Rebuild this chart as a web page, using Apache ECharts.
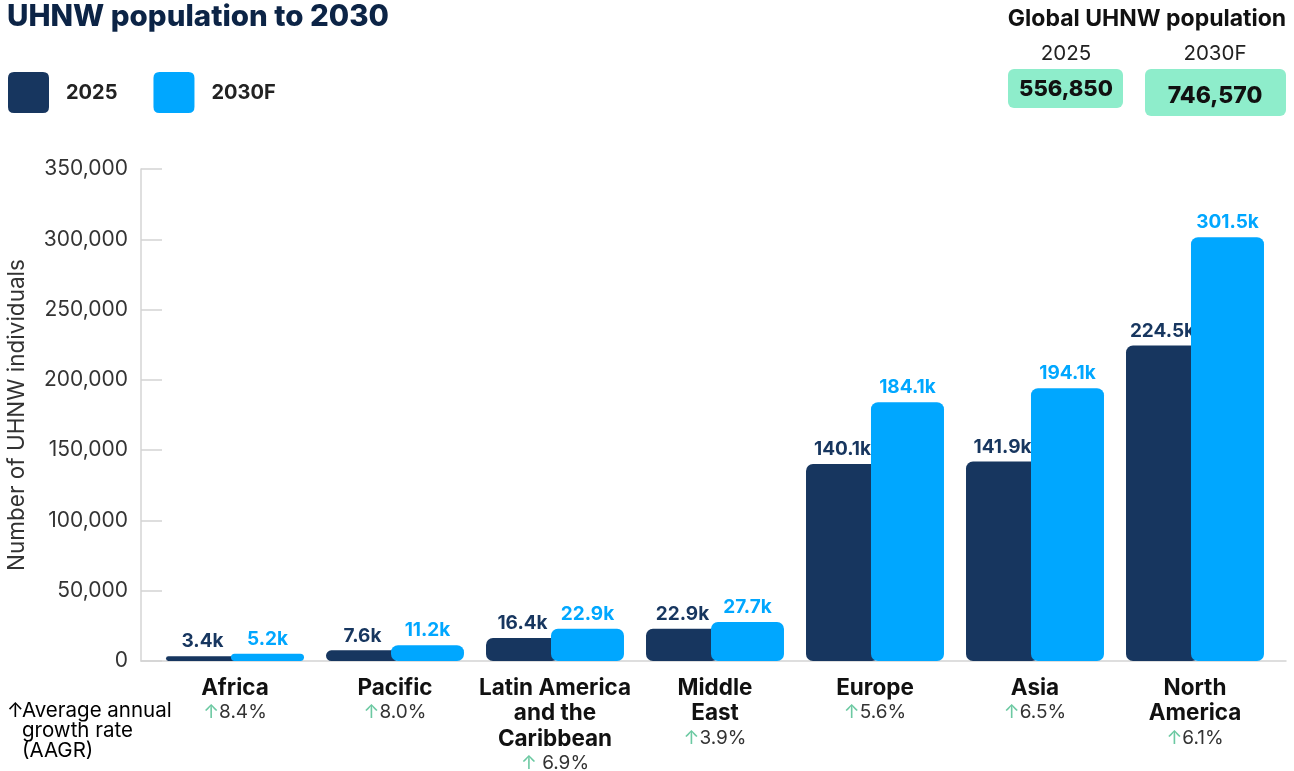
<!DOCTYPE html>
<html>
<head>
<meta charset="utf-8">
<title>UHNW population to 2030</title>
<script src="https://cdn.jsdelivr.net/npm/echarts@6/dist/echarts.min.js"></script>
<style>
  html, body { margin: 0; padding: 0; background: #ffffff; }
  #chart { width: 1294px; height: 771px; }
</style>
</head>
<body>
<div id="chart"></div>
<script>
// Regions, ordered by 2025 population
const regions = ['Africa', 'Pacific', 'Latin America\nand the\nCaribbean', 'Middle\nEast', 'Europe', 'Asia', 'North\nAmerica'];
// Average annual growth rate per region
const growth = ['8.4%', '8.0%', ' 6.9%', '3.9%', '5.6%', '6.5%', '6.1%'];
// UHNW individuals
const pop2025 = [3400, 7600, 16400, 22900, 140100, 141900, 224500];
const pop2030 = [5200, 11200, 22900, 27700, 184100, 194100, 301500];
// Global totals
const global2025 = '556,850';
const global2030 = '746,570';
const yTicks = [0, 50000, 100000, 150000, 200000, 250000, 300000, 350000];

const DARK = '#17365f';
const LIGHT = '#00a7ff';
const MINT = '#8eedcb';
const FONT = 'Inter, "Noto Sans", sans-serif';

const chart = echarts.init(document.getElementById('chart'), null, { renderer: 'canvas' });

const fmtK = v => (v / 1000).toFixed(1) + 'k';
const fmtNum = v => v.toLocaleString('en-US');

const categoryLabel = (name, i) => {
  const lines = name.split('\n').map(l => '{n|' + l + '}').join('\n');
  return lines + '\n{a|↑}{p|' + growth[i] + '}';
};

const option = {
  backgroundColor: '#ffffff',
  animation: false,
  textStyle: { fontFamily: FONT },
  legend: {
    left: 8,
    top: 72,
    padding: 0,
    itemWidth: 41,
    itemHeight: 41,
    itemGap: 36,
    icon: 'path://M6,0 L35,0 Q41,0 41,6 L41,35 Q41,41 35,41 L6,41 Q0,41 0,35 L0,6 Q0,0 6,0 Z',
    textStyle: { fontFamily: FONT, fontSize: 20, fontWeight: 700, color: '#222222', padding: [0, 0, 0, 12] },
    data: ['2025', '2030F']
  },
  grid: [
    { left: 141, right: 8, top: 169, bottom: 110, outerBoundsMode: 'none' },
    { left: 155, right: 19, top: 169, bottom: 110, outerBoundsMode: 'none' }
  ],
  xAxis: [
    {
      gridIndex: 0, type: 'value', min: 0, max: 1,
      axisLine: { show: true, lineStyle: { color: '#d4d4d4', width: 1.5 } },
      axisTick: { show: false }, axisLabel: { show: false }, splitLine: { show: false }
    },
    {
      gridIndex: 1, type: 'category', data: regions,
      axisLine: { show: false }, axisTick: { show: false },
      axisLabel: {
        interval: 0,
        margin: 14,
        formatter: categoryLabel,
        rich: {
          n: { fontFamily: FONT, fontSize: 22.5, fontWeight: 700, color: '#111111', lineHeight: 25.5, align: 'center' },
          a: { fontFamily: FONT, fontSize: 19, color: '#6cc9a2', lineHeight: 24 },
          p: { fontFamily: FONT, fontSize: 19, color: '#333333', lineHeight: 24 }
        }
      }
    }
  ],
  yAxis: [
    {
      gridIndex: 0, type: 'value', min: 0, max: 350000, interval: 50000,
      name: 'Number of UHNW individuals',
      nameLocation: 'middle', nameRotate: 90, nameGap: 112,
      nameTextStyle: { fontFamily: FONT, fontSize: 22.5, color: '#333333' },
      axisLine: { show: true, lineStyle: { color: '#d4d4d4', width: 1.5 } },
      axisTick: { show: true, inside: true, length: 21, lineStyle: { color: '#d4d4d4', width: 1.5 } },
      axisLabel: {
        margin: 13, fontFamily: FONT, fontSize: 21, color: '#333333',
        customValues: yTicks,
        formatter: v => fmtNum(v)
      },
      splitLine: { show: false }
    },
    {
      gridIndex: 1, type: 'value', min: 0, max: 350000, interval: 50000, show: false,
      splitLine: { show: false }
    }
  ],
  series: [
    {
      name: '2025', type: 'bar', xAxisIndex: 1, yAxisIndex: 1,
      data: pop2025, barWidth: 73, barGap: '-11%', z: 2,
      itemStyle: { color: DARK, borderRadius: 7 },
      label: {
        show: true, position: 'top', distance: 5, formatter: p => fmtK(p.value),
        fontFamily: FONT, fontSize: 19, fontWeight: 700, color: DARK
      }
    },
    {
      name: '2030F', type: 'bar', xAxisIndex: 1, yAxisIndex: 1,
      data: pop2030, barWidth: 73, z: 3,
      itemStyle: { color: LIGHT, borderRadius: 7 },
      label: {
        show: true, position: 'top', distance: 5, formatter: p => fmtK(p.value),
        fontFamily: FONT, fontSize: 19, fontWeight: 700, color: LIGHT
      }
    }
  ],
  graphic: [
    {
      type: 'text', left: 7, top: 2,
      style: { text: 'UHNW population to 2030', fontFamily: FONT, fontSize: 29.5, fontWeight: 800, fill: '#0c2446' }
    },
    {
      type: 'text', left: 7, top: 700,
      style: {
        text: '{a|↑}{t|Average annual}\n{s| }{t|growth rate}\n{s| }{t|(AAGR)}',
        rich: {
          a: { fontFamily: FONT, fontSize: 20, color: '#6cc9a2', lineHeight: 20, width: 15 },
          s: { fontSize: 20, lineHeight: 20, width: 15 },
          t: { fontFamily: FONT, fontSize: 20.5, color: '#333333', lineHeight: 20 }
        }
      }
    },
    {
      type: 'text', x: 1147, y: 19,
      style: { text: 'Global UHNW population', fontFamily: FONT, fontSize: 23, fontWeight: 700, fill: '#111111', align: 'center', verticalAlign: 'middle' }
    },
    {
      type: 'text', x: 1066, y: 54,
      style: { text: '2025', fontFamily: FONT, fontSize: 20.5, fill: '#222222', align: 'center', verticalAlign: 'middle' }
    },
    {
      type: 'text', x: 1215, y: 54,
      style: { text: '2030F', fontFamily: FONT, fontSize: 20.5, fill: '#222222', align: 'center', verticalAlign: 'middle' }
    },
    {
      type: 'rect', shape: { x: 1008, y: 69, width: 115, height: 39, r: 6 },
      style: { fill: MINT }
    },
    {
      type: 'text', x: 1066, y: 89,
      style: { text: global2025, fontFamily: FONT, fontSize: 22, fontWeight: 800, fill: '#111111', align: 'center', verticalAlign: 'middle' }
    },
    {
      type: 'rect', shape: { x: 1145, y: 69, width: 141, height: 47, r: 6 },
      style: { fill: MINT }
    },
    {
      type: 'text', x: 1215, y: 96,
      style: { text: global2030, fontFamily: FONT, fontSize: 23, fontWeight: 800, fill: '#111111', align: 'center', verticalAlign: 'middle' }
    }
  ]
};

chart.setOption(option);
</script>
</body>
</html>
